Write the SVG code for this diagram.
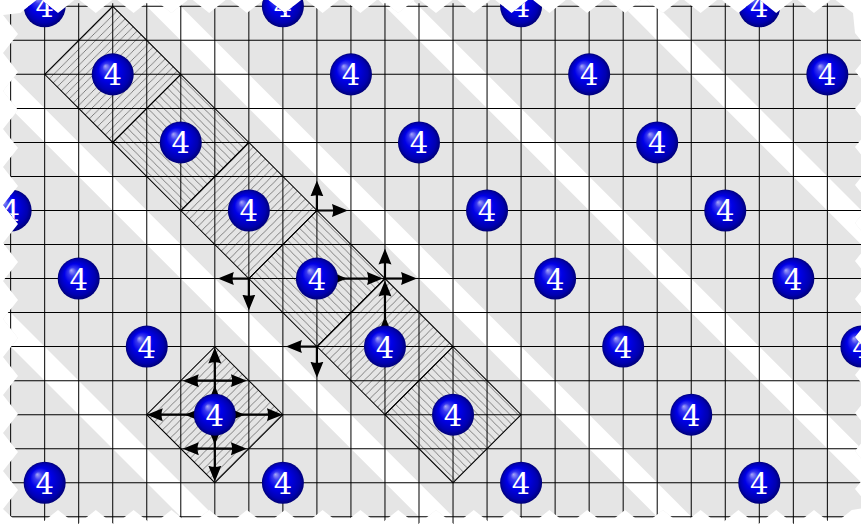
<svg xmlns="http://www.w3.org/2000/svg" width="861" height="524" viewBox="0 0 861 524">
<style>
.w{fill:#fff}
.gl{stroke:#000;stroke-width:1;fill:none}
.d{stroke:#000;stroke-width:1;stroke-linejoin:miter}
.a{stroke:#000;stroke-width:2.2;fill:none;marker-end:url(#ah)}
.b{fill:url(#bg)}
.t{font-family:"DejaVu Serif","Liberation Serif",serif;font-size:29px;fill:#fff;text-anchor:middle}
</style>
<defs>
<clipPath id="edge"><polygon points="3,15 20.2,13 39.1,-2 58,13 76.9,-2 95.8,13 114.7,-2 133.6,13 152.5,-2 171.4,13 190.3,-2 209.2,13 228.1,-2 247,13 265.9,-2 284.8,13 303.7,-2 322.6,13 341.5,-2 360.4,13 379.3,-2 398.2,13 417.1,-2 436,13 454.9,-2 473.8,13 492.7,-2 511.6,13 530.5,-2 549.4,13 568.3,-2 587.2,13 606.1,-2 625,13 643.9,-2 662.8,13 681.7,-2 700.6,13 719.5,-2 738.4,13 757.3,-2 776.2,13 795.1,-2 814,13 832.9,-2 853,13 855,33 870,52 855,71 870,90 855,109 870,128 855,147 870,166 855,185 870,204 855,223 870,242 855,261 870,280 855,299 870,318 855,337 870,356 855,375 870,394 855,413 870,432 855,451 870,470 855,489 870,507 851.8,510 832.9,525 814,510 795.1,525 776.2,510 757.3,525 738.4,510 719.5,525 700.6,510 681.7,525 662.8,510 643.9,525 625,510 606.1,525 587.2,510 568.3,525 549.4,510 530.5,525 511.6,510 492.7,525 473.8,510 454.9,525 436,510 417.1,525 398.2,510 379.3,525 360.4,510 341.5,525 322.6,510 303.7,525 284.8,510 265.9,525 247,510 228.1,525 209.2,510 190.3,525 171.4,510 152.5,525 133.6,510 114.7,525 95.8,510 76.9,525 58,510 39.1,525 20,525 3,509 18,490 3,471 18,452 3,433 18,414 3,395 18,376 3,357 18,338 3,319 18,300 3,281 18,262 3,243 18,224 3,205 18,186 3,167 18,148 3,129 18,110 3,91 18,72 3,53 18,34"/></clipPath>
<pattern id="hu" patternUnits="userSpaceOnUse" width="8" height="8"><path d="M-1 1L1 -1M0 8L8 0M7 9L9 7" stroke="#666" stroke-width=".8" fill="none"/></pattern>
<pattern id="hd" patternUnits="userSpaceOnUse" width="8" height="8"><path d="M-1 7L1 9M0 0L8 8M7 -1L9 1" stroke="#666" stroke-width=".8" fill="none"/></pattern>
<radialGradient id="bg" cx=".5" cy=".5" r=".5" fx=".32" fy=".3">
<stop offset="0" stop-color="#a8a8f8"/>
<stop offset=".2" stop-color="#3838f0"/>
<stop offset=".5" stop-color="#0000e8"/>
<stop offset=".85" stop-color="#0000b0"/>
<stop offset="1" stop-color="#000078"/>
</radialGradient>
<marker id="ah" viewBox="0 -8 18 16" markerUnits="userSpaceOnUse" markerWidth="18" markerHeight="16" refX="6" refY="0" orient="auto"><path d="M0 -6.5L16 0L0 6.5Q2.5 0 0 -6.5Z" fill="#000"/></marker>
</defs>
<g clip-path="url(#edge)">
<g transform="matrix(1.00088 0 0 1.00088 -0.37 0.3)">
<g id="background">
<rect x="-5" y="-5" width="880" height="522.4" fill="#e5e5e5"/>
<g class="w">
<polygon points="-345,-10 -311,-10 229,530 195,530"/>
<polygon points="-107,-10 -73,-10 467,530 433,530"/>
<polygon points="131,-10 165,-10 705,530 671,530"/>
<polygon points="369,-10 403,-10 943,530 909,530"/>
<polygon points="607,-10 641,-10 1181,530 1147,530"/>
<polygon points="845,-10 879,-10 1419,530 1385,530"/>
</g>
</g>
<g id="hatching">
<polygon fill="url(#hu)" points="45,74 113,6 181,74 113,142"/>
<polygon fill="url(#hd)" points="113,142 181,74 249,142 181,210"/>
<polygon fill="url(#hu)" points="181,210 249,142 317,210 249,278"/>
<polygon fill="url(#hd)" points="249,278 317,210 385,278 317,346"/>
<polygon fill="url(#hu)" points="317,346 385,278 453,346 385,414"/>
<polygon fill="url(#hd)" points="385,414 453,346 521,414 453,482"/>
<polygon fill="url(#hu)" points="147,414 215,346 283,414 215,482"/>
</g>
<path id="grid" class="gl" d="M11 3V524M45 3V524M79 3V524M113 3V524M147 3V524M181 3V524M215 3V524M249 3V524M283 3V524M317 3V524M351 3V524M385 3V524M419 3V524M453 3V524M487 3V524M521 3V524M555 3V524M589 3V524M623 3V524M657 3V524M691 3V524M725 3V524M759 3V524M793 3V524M827 3V524M0 6H870M0 40H870M0 74H870M0 108H870M0 142H870M0 176H870M0 210H870M0 244H870M0 278H870M0 312H870M0 346H870M0 380H870M0 414H870M0 448H870M0 482H870M0 516H870"/>
<g id="cells" fill="none" class="d">
<polygon points="45,74 113,6 181,74 113,142"/>
<polygon points="113,142 181,74 249,142 181,210"/>
<polygon points="181,210 249,142 317,210 249,278"/>
<polygon points="249,278 317,210 385,278 317,346"/>
<polygon points="317,346 385,278 453,346 385,414"/>
<polygon points="385,414 453,346 521,414 453,482"/>
<polygon points="147,414 215,346 283,414 215,482"/>
</g>
<g id="connectors">
<line class="a" x1="317" y1="210" x2="317" y2="190"/>
<line class="a" x1="317" y1="210" x2="338" y2="210"/>
<line class="a" x1="249" y1="278" x2="228" y2="278"/>
<line class="a" x1="249" y1="278" x2="249" y2="300"/>
<line class="a" x1="317" y1="278" x2="337" y2="278"/>
<line class="a" x1="317" y1="278" x2="373" y2="278"/>
<line class="a" x1="385" y1="278" x2="385" y2="258"/>
<line class="a" x1="385" y1="278" x2="407" y2="278"/>
<line class="a" x1="385" y1="346" x2="385" y2="326"/>
<line class="a" x1="385" y1="346" x2="385" y2="290"/>
<line class="a" x1="317" y1="346" x2="296" y2="346"/>
<line class="a" x1="317" y1="346" x2="317" y2="367"/>
<line class="a" x1="215" y1="414" x2="215" y2="395"/>
<line class="a" x1="215" y1="414" x2="215" y2="357"/>
<line class="a" x1="215" y1="414" x2="215" y2="434"/>
<line class="a" x1="215" y1="414" x2="215" y2="471"/>
<line class="a" x1="215" y1="414" x2="195" y2="414"/>
<line class="a" x1="215" y1="414" x2="157" y2="414"/>
<line class="a" x1="215" y1="414" x2="235" y2="414"/>
<line class="a" x1="215" y1="414" x2="273" y2="414"/>
<line class="a" x1="215" y1="380" x2="193" y2="380"/>
<line class="a" x1="215" y1="380" x2="237" y2="380"/>
<line class="a" x1="215" y1="448" x2="193" y2="448"/>
<line class="a" x1="215" y1="448" x2="237" y2="448"/>
</g>
<g id="n1"><circle class="b" cx="45" cy="6" r="21"/><text class="t" x="45" y="17">4</text></g>
<g id="n2"><circle class="b" cx="283" cy="6" r="21"/><text class="t" x="283" y="17">4</text></g>
<g id="n3"><circle class="b" cx="521" cy="6" r="21"/><text class="t" x="521" y="17">4</text></g>
<g id="n4"><circle class="b" cx="759" cy="6" r="21"/><text class="t" x="759" y="17">4</text></g>
<g id="n5"><circle class="b" cx="113" cy="74" r="21"/><text class="t" x="113" y="85">4</text></g>
<g id="n6"><circle class="b" cx="351" cy="74" r="21"/><text class="t" x="351" y="85">4</text></g>
<g id="n7"><circle class="b" cx="589" cy="74" r="21"/><text class="t" x="589" y="85">4</text></g>
<g id="n8"><circle class="b" cx="827" cy="74" r="21"/><text class="t" x="827" y="85">4</text></g>
<g id="n9"><circle class="b" cx="181" cy="142" r="21"/><text class="t" x="181" y="153">4</text></g>
<g id="n10"><circle class="b" cx="419" cy="142" r="21"/><text class="t" x="419" y="153">4</text></g>
<g id="n11"><circle class="b" cx="657" cy="142" r="21"/><text class="t" x="657" y="153">4</text></g>
<g id="n12"><circle class="b" cx="11" cy="210" r="21"/><text class="t" x="11" y="221">4</text></g>
<g id="n13"><circle class="b" cx="249" cy="210" r="21"/><text class="t" x="249" y="221">4</text></g>
<g id="n14"><circle class="b" cx="487" cy="210" r="21"/><text class="t" x="487" y="221">4</text></g>
<g id="n15"><circle class="b" cx="725" cy="210" r="21"/><text class="t" x="725" y="221">4</text></g>
<g id="n16"><circle class="b" cx="79" cy="278" r="21"/><text class="t" x="79" y="289">4</text></g>
<g id="n17"><circle class="b" cx="317" cy="278" r="21"/><text class="t" x="317" y="289">4</text></g>
<g id="n18"><circle class="b" cx="555" cy="278" r="21"/><text class="t" x="555" y="289">4</text></g>
<g id="n19"><circle class="b" cx="793" cy="278" r="21"/><text class="t" x="793" y="289">4</text></g>
<g id="n20"><circle class="b" cx="147" cy="346" r="21"/><text class="t" x="147" y="357">4</text></g>
<g id="n21"><circle class="b" cx="385" cy="346" r="21"/><text class="t" x="385" y="357">4</text></g>
<g id="n22"><circle class="b" cx="623" cy="346" r="21"/><text class="t" x="623" y="357">4</text></g>
<g id="n23"><circle class="b" cx="861" cy="346" r="21"/><text class="t" x="861" y="357">4</text></g>
<g id="n24"><circle class="b" cx="215" cy="414" r="21"/><text class="t" x="215" y="425">4</text></g>
<g id="n25"><circle class="b" cx="453" cy="414" r="21"/><text class="t" x="453" y="425">4</text></g>
<g id="n26"><circle class="b" cx="691" cy="414" r="21"/><text class="t" x="691" y="425">4</text></g>
<g id="n27"><circle class="b" cx="45" cy="482" r="21"/><text class="t" x="45" y="493">4</text></g>
<g id="n28"><circle class="b" cx="283" cy="482" r="21"/><text class="t" x="283" y="493">4</text></g>
<g id="n29"><circle class="b" cx="521" cy="482" r="21"/><text class="t" x="521" y="493">4</text></g>
<g id="n30"><circle class="b" cx="759" cy="482" r="21"/><text class="t" x="759" y="493">4</text></g>
</g>
</g>
</svg>
